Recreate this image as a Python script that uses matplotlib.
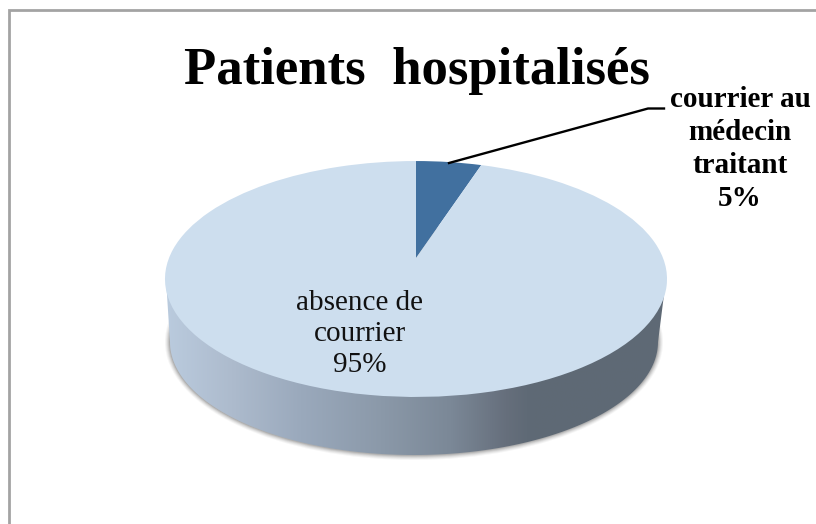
"""Patients hospitalises: 3D looking pie, drawn with a perspective transform on ax.pie."""

import matplotlib
matplotlib.use("Agg")
import matplotlib.pyplot as plt
import numpy as np
from matplotlib.colors import LinearSegmentedColormap
from matplotlib.patches import Ellipse, Polygon
from matplotlib.transforms import Transform

title = "Patients  hospitalisés"
categories = ["courrier au\nmédecin\ntraitant", "absence de\ncourrier"]
shares = [5, 95]

SERIF = "Liberation Serif"
W, H = 816, 524
LIGHT = "#CDDEEE"
DARK = "#41709F"


class Perspective(Transform):
    """Maps the unit circle of the pie to the tilted top of the disc (pixels)."""
    input_dims = 2
    output_dims = 2

    def transform_non_affine(self, values):
        u, v = values[:, 0], values[:, 1]
        w = 1 + 0.178 * v
        return np.column_stack([416 + 247 * u / w, (258 - 68.3 * v) / w])


plt.rcParams["font.family"] = [SERIF, "DejaVu Serif"]
fig = plt.figure(figsize=(W / 100, H / 100), dpi=100)
ax = fig.add_axes([0, 0, 1, 1])

# soft shadow under the disc
for grow, alpha in zip([5, 4, 3, 2, 1], [0.05, 0.07, 0.09, 0.12, 0.16]):
    ax.add_patch(Ellipse((414, 342), 2 * (244 + grow), 2 * (113 + grow),
                         fc="#404040", ec="none", alpha=alpha, zorder=1))

# side wall: gradient clipped to the lower outline
t = np.linspace(np.pi, 2 * np.pi, 200)
wall_x = 414 + 244 * np.cos(t)
wall_y = 342 - 113 * np.sin(t)
wall_pts = np.column_stack([
    np.r_[166, wall_x, 666],
    np.r_[279, wall_y, 279],
])
wall = Polygon(wall_pts, closed=True, fc="none", ec="none", zorder=2)
ax.add_patch(wall)

stops = [(0.00, "#BACBDE"), (0.13, "#ADBBCD"), (0.27, "#9AA9BC"), (0.43, "#8B99A9"),
         (0.57, "#7B8897"), (0.68, "#666F7C"), (0.73, "#5E6975"), (1.00, "#5F6A75")]
cmap = LinearSegmentedColormap.from_list("wall", stops)
img = ax.imshow(np.linspace(0, 1, 256)[None, :], cmap=cmap, aspect="auto",
                extent=(166, 666, 470, 270), zorder=2)
img.set_clip_path(wall)

# top of the disc
wedges, _ = ax.pie(shares, colors=[DARK, LIGHT], startangle=90, counterclock=False,
                   wedgeprops={"linewidth": 0, "zorder": 3})
for w in wedges:
    w.set_transform(Perspective() + ax.transData)
    w.set_clip_on(False)

ax.set_aspect("auto")
ax.set_xlim(0, W)
ax.set_ylim(H, 0)
ax.axis("off")

# chart frame, runs off the right and bottom of the picture
ax.plot([8.5, 8.5, W + 5], [H + 5, 10, 10], color="#A3A3A3", lw=2, zorder=4,
        solid_joinstyle="miter")

# leader line for the small slice
ax.plot([449, 648, 664], [163, 108.5, 108.5], color="black", lw=1.7, zorder=5)

ax.text(417, 71, title, fontsize=38, fontweight="bold", ha="center", va="center", zorder=6)
ax.text(740, 149, f"{categories[0]}\n{shares[0]}%", fontsize=21, fontweight="bold",
        ha="center", va="center", linespacing=1.27, color="black", zorder=6)
ax.text(360, 334, f"{categories[1]}\n{shares[1]}%", fontsize=21,
        ha="center", va="center", linespacing=1.27, color="#111111", zorder=6)

fig.savefig("out.png", dpi=100, facecolor="white")
